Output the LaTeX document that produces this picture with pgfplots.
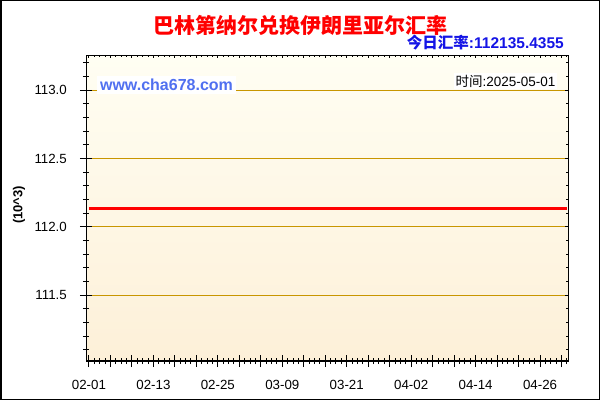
\documentclass[border=0pt]{standalone}
\usepackage{pgfplots}
\pgfplotsset{compat=1.18}
\usepackage{fontspec}
\setmainfont{Liberation Sans}
\newfontfamily\cjk{Noto Sans CJK SC}
\definecolor{gridc}{RGB}{200,150,0}
\definecolor{bgtop}{RGB}{255,254,243}
\definecolor{bgbot}{RGB}{253,240,216}
\definecolor{subblue}{RGB}{20,20,230}
\definecolor{siteblue}{RGB}{80,112,240}
\begin{document}
\begin{tikzpicture}
\useasboundingbox (0,0) rectangle (600bp,400bp);
\fill[white] (0,0) rectangle (600bp,400bp);
\begin{axis}[
    at={(86bp,39bp)}, anchor=south west,
    scale only axis, width=482bp, height=305.5bp,
    xmin=-0.55, xmax=89.2, ymin=111.017, ymax=113.254,
    axis background/.style={top color=bgtop, bottom color=bgbot},
    axis line style={black, line width=1bp},
    tick pos=left, tick align=center,
    tick style={black, line width=1bp},
    major tick length=12bp, minor tick length=6bp,
    xtick={0,4,...,88},
    xticklabels={02-01,,,02-13,,,02-25,,,03-09,,,03-21,,,04-02,,,04-14,,,04-26,,},
    minor xtick={0,...,89},
    ytick={111.5,112,112.5,113},
    minor ytick={111.1,111.2,111.3,111.4,111.6,111.7,111.8,111.9,112.1,112.2,112.3,112.4,112.6,112.7,112.8,112.9,113.1,113.2},
    ymajorgrids=true,
    major grid style={gridc, line width=1bp},
    yticklabel style={/pgf/number format/fixed, /pgf/number format/fixed zerofill, /pgf/number format/precision=1, /pgf/number format/assume math mode=true, anchor=east, inner sep=0pt, xshift=-13bp},
    xticklabel style={anchor=north, inner sep=0pt, yshift=-13bp},
    ticklabel style={font=\fontsize{13.3bp}{15bp}\selectfont},
    scaled y ticks=false,
]
\addplot[red, line width=3bp] coordinates {(0,112.1354355) (89,112.1354355)};
\end{axis}
\begin{axis}[
    at={(86bp,39bp)}, anchor=south west,
    scale only axis, width=482bp, height=305.5bp,
    xmin=-0.55, xmax=89.2, ymin=111.017, ymax=113.254,
    axis line style={draw=none},
    xtick pos=right, ytick pos=right, tick align=inside,
    tick style={black, line width=1bp},
    major tick length=3bp, minor tick length=2bp,
    xtick={0,4,...,88}, minor xtick={0,...,89},
    ytick={111.5,112,112.5,113},
    minor ytick={111.1,111.2,111.3,111.4,111.6,111.7,111.8,111.9,112.1,112.2,112.3,112.4,112.6,112.7,112.8,112.9,113.1,113.2},
    xticklabels={}, yticklabels={},
]
\end{axis}
\draw[black, line width=1bp] (86bp,39bp) rectangle (568bp,344.5bp);
\node[red, font=\cjk\bfseries\fontsize{21bp}{24bp}\selectfont] at (300bp,375bp) {巴林第纳尔兑换伊朗里亚尔汇率};
\node[anchor=east, text=subblue, font=\bfseries\fontsize{15.5bp}{18bp}\selectfont, inner sep=0pt] at (564bp,357.3bp) {{\cjk 今日汇率}:112135.4355};
\node[fill=white, text=siteblue, font=\bfseries\fontsize{16bp}{18bp}\selectfont, inner sep=3bp] at (166.5bp,315bp) {www.cha678.com};
\node[fill=white, text=black, font=\fontsize{13.5bp}{15bp}\selectfont, inner sep=2bp] at (505.5bp,319bp) {{\cjk 时间}:2025-05-01};
\node[rotate=90, font=\bfseries\fontsize{13bp}{15bp}\selectfont] at (19bp,195bp) {(10\textasciicircum 3)};
\draw[black, line width=1.5bp] (0.75bp,0.75bp) rectangle (599.25bp,399.25bp);
\end{tikzpicture}
\end{document}
